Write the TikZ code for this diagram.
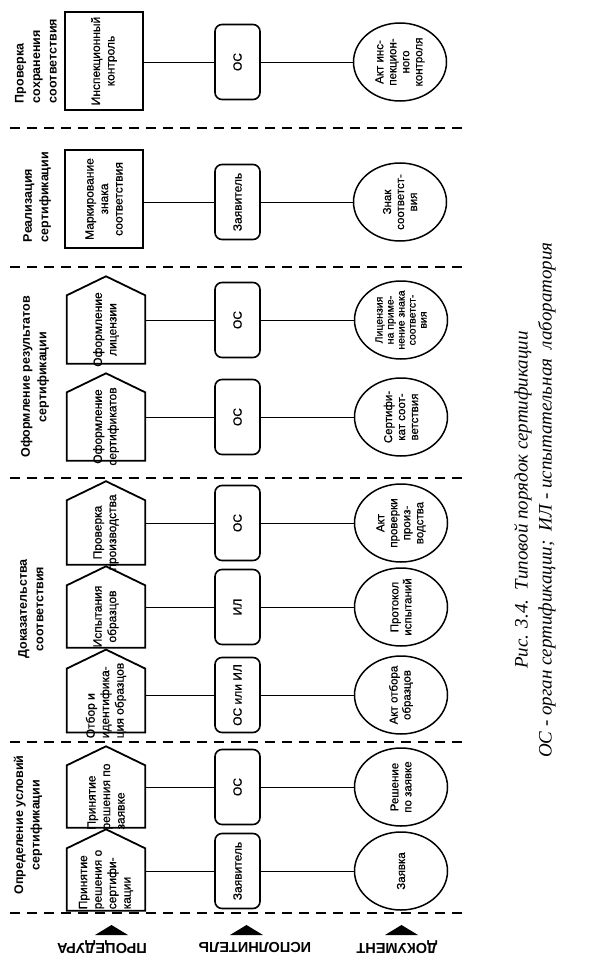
\documentclass[tikz,border=0pt]{standalone}
\usepackage{fontspec}
\setmainfont{Liberation Sans}
\newfontfamily\boxfont[FakeBold=0.7]{Liberation Sans}
\newfontfamily\capfont{Liberation Serif}
\usetikzlibrary{shapes.geometric,calc}

\tikzset{
  proc/.style={draw, line width=1.8pt, rotate=90, inner sep=2pt, minimum width=98pt,
    minimum height=78pt, align=center, font=\boxfont\fontsize{12}{14.5}\selectfont},
  house/.style={rotate=90, inner xsep=-6pt, inner ysep=2pt, minimum width=62pt,
    minimum height=78pt, align=center, font=\boxfont\fontsize{12}{14.5}\selectfont},
  exec/.style={draw, line width=1.6pt, rounded corners=7pt, rotate=90, minimum width=75pt,
    minimum height=45pt, font=\boxfont\fontsize{12}{14.5}\selectfont},
  doc/.style={draw, ellipse, line width=1.5pt, rotate=90, inner sep=-5pt, minimum width=78pt,
    minimum height=93pt, align=center, font=\boxfont\fontsize{11.5}{13}\selectfont},
  stage/.style={rotate=90, font=\bfseries\fontsize{12.5}{16.5}\selectfont},
  sep/.style={line width=1.2pt, dash pattern=on 10pt off 7pt},
  link/.style={line width=0.9pt},
  rowlabel/.style={rotate=180, font=\bfseries\fontsize{14.5}{16}\selectfont},
}

\begin{document}
\begin{tikzpicture}[x=1pt,y=-1pt]
\useasboundingbox (0,0) rectangle (591,971);

% stage separators
\foreach \y in {128,267,478,742,913}
\draw[sep] (10,\y) -- (462,\y);

% stage titles
\node[stage, align=left] (s6) at (36,61) {Проверка\\сохранения\\соответствия};
\node[stage, align=left] (s5) at (37,197) {Реализация\\сертификации};
\node[stage, align=center] (s4) at (35,377) {Оформление результатов\\сертификации};
\node[stage, align=center] (s3) at (31,609) {Доказательства\\соответствия};
\node[stage, align=center] (s2) at (28,825) {Определение условий\\сертификации};

% procedures
\node[proc] (pinsp) at (104,61) {Инспекционный\\контроль};
\node[proc] (pmark) at (104,199) {Маркирование\\знака\\соответствия};
\node[house, minimum width=68pt] (plic) at (106,329.5) {Оформление\\лицензии};
\node[house, minimum width=68pt] (pcert) at (106,426.5) {Оформление\\сертификатов};
\node[house] (pprod) at (106,532.5) {Проверка\\производства};
\node[house] (ptest) at (106,616.5) {Испытания\\образцов};
\node[house, align=left] (psamp) at (106,700.5) {Отбор и\\идентифика-\\ция образцов};
\node[house, align=left] (preq) at (106,796.5) {Принятие\\решения по\\заявке};
\node[house, align=left] (pdec) at (106,879.5) {Принятие\\решения о\\сертифи-\\кации};
\foreach \n in {lic,cert,prod,test,samp,req,dec}
\draw[line width=1.8pt] (p\n.north west) -- (p\n.south west) -- (p\n.south east)
  -- ($(p\n.east)!-19pt!(p\n.west)$) -- (p\n.north east) -- cycle;

% executors
\node[exec] (einsp) at (237.5,62) {ОС};
\node[exec] (emark) at (237.5,202) {Заявитель};
\node[exec] (elic) at (237.5,320) {ОС};
\node[exec] (ecert) at (237.5,417) {ОС};
\node[exec] (eprod) at (237.5,523) {ОС};
\node[exec] (etest) at (237.5,607) {ИЛ};
\node[exec] (esamp) at (237.5,695) {ОС или ИЛ};
\node[exec] (ereq) at (237.5,787) {ОС};
\node[exec] (edec) at (237.5,871) {Заявитель};

% documents
\node[doc] (dinsp) at (400,62) {Акт инс-\\пекцион-\\ного\\контроля};
\node[doc] (dmark) at (400,202) {Знак\\соответст-\\вия};
\node[doc, font=\boxfont\fontsize{10.5}{11}\selectfont] (dlic) at (401,320) {Лицензия\\на приме-\\нение знака\\соответст-\\вия};
\node[doc] (dcert) at (401,417) {Сертифи-\\кат соот-\\ветствия};
\node[doc] (dprod) at (401,523) {Акт\\проверки\\произ-\\водства};
\node[doc] (dtest) at (401,607) {Протокол\\испытаний};
\node[doc] (dsamp) at (401,695) {Акт отбора\\образцов};
\node[doc] (dreq) at (401,787) {Решение\\по заявке};
\node[doc] (ddec) at (401,871) {Заявка};

\foreach \n in {insp,mark,lic,cert,prod,test,samp,req,dec}
\draw[link] (p\n.south |- e\n) -- (e\n) (e\n) -- (d\n);

% row labels
\node[rowlabel] (rproc) at (102,947) {ПРОЦЕДУРА};
\node[rowlabel] (rexec) at (255,947) {ИСПОЛНИТЕЛЬ};
\node[rowlabel] (rdoc) at (397,947) {ДОКУМЕНТ};
\foreach \x in {111.5,246.5,401.5}
\fill (\x-16.5,935) -- (\x+16.5,935) -- (\x,925) -- cycle;

% caption
\node[rotate=90, align=center, font=\capfont\itshape\fontsize{19}{24}\selectfont] (cap) at (535,500)
  {Рис. 3.4.\ \ Типовой порядок сертификации\\ОС - орган сертификации;\ \ ИЛ - испытательная\ \ лаборатория};
\end{tikzpicture}
\end{document}
